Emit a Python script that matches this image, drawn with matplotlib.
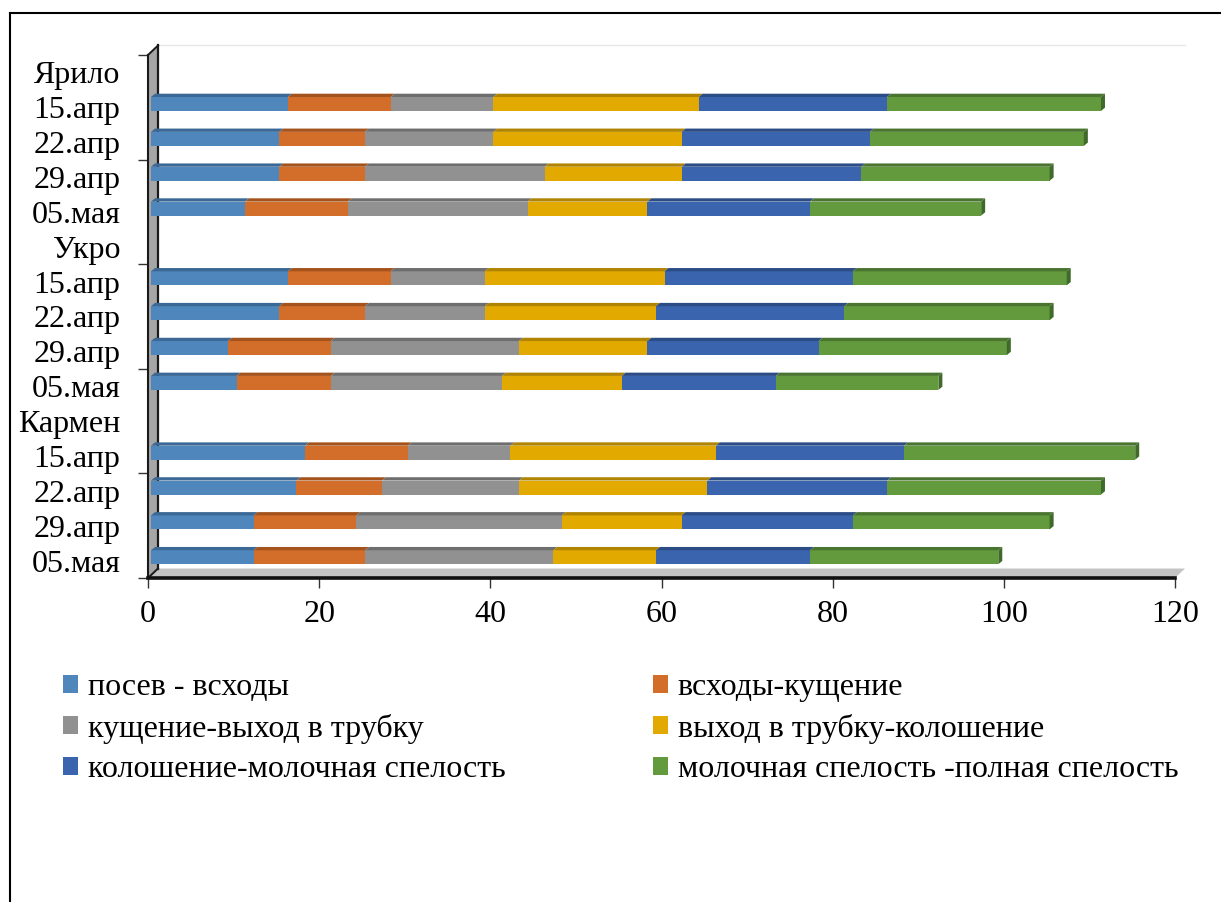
import matplotlib
matplotlib.use('Agg')
import matplotlib.pyplot as plt
from matplotlib.patches import Polygon, Patch
from matplotlib.lines import Line2D
import numpy as np

plt.rcParams['font.family'] = ['Liberation Serif', 'DejaVu Serif']

# ---------------- data ----------------
groups = ['Ярило', 'Укро', 'Кармен']
dates = ['15.апр', '22.апр', '29.апр', '05.мая']
phases = ['посев - всходы', 'всходы-кущение', 'кущение-выход в трубку',
          'выход в трубку-колошение', 'колошение-молочная спелость',
          'молочная спелость -полная спелость']
# rows: Ярило (15.апр, 22.апр, 29.апр, 05.мая), Укро (...), Кармен (...)
sow_emerg = [16, 15, 15, 11, 16, 15, 9, 10, 18, 17, 12, 12]
emerg_till = [12, 10, 10, 12, 12, 10, 12, 11, 12, 10, 12, 13]
till_boot = [12, 15, 21, 21, 11, 14, 22, 20, 12, 16, 24, 22]
boot_head = [24, 22, 16, 14, 21, 20, 15, 14, 24, 22, 14, 12]
head_milk = [22, 22, 21, 19, 22, 22, 20, 18, 22, 21, 20, 18]
milk_full = [25, 25, 22, 20, 25, 24, 22, 19, 27, 25, 23, 22]
x_ticks = [0, 20, 40, 60, 80, 100, 120]

series = [sow_emerg, emerg_till, till_boot, boot_head, head_milk, milk_full]
front_colors = ['#4f87bd', '#d36d2a', '#919191', '#e2aa00', '#3b64ae', '#629a3d']
top_colors = ['#3b6894', '#a4531d', '#6e6e6e', '#b08400', '#2c4c86', '#4a7530']
side_color = '#3f6a2a'

FS = 23

W, H = 1221, 902
fig = plt.figure(figsize=(W / 100, H / 100), dpi=100)

AX_L, AX_R, AX_T, AX_B = 148, 1175, 55, 578
ax = fig.add_axes([AX_L / W, 1 - AX_B / H, (AX_R - AX_L) / W, (AX_B - AX_T) / H])

# category layout: group header row then date rows
labels, bar_pos = [], []
p = 0
for g in groups:
    labels.append(g)
    p += 1
    for d in dates:
        labels.append(d)
        bar_pos.append(p)
        p += 1
n_rows = len(labels)

ax.set_xlim(x_ticks[0], x_ticks[-1])
ax.set_ylim(n_rows - 0.5, -0.5)

ux = (AX_R - AX_L) / (x_ticks[-1] - x_ticks[0])   # px per x unit
uy = (AX_B - AX_T) / n_rows                        # px per row

# 3D style offsets (pixels -> data)
dx0, dy0 = 3 / ux, 3.3 / uy
h = 14 / uy
ddx, ddy = 4 / ux, 3.3 / uy
wdx, wdy = 10 / ux, 9.5 / uy

y0, y1 = n_rows - 0.5, -0.5
# left wall
ax.add_patch(Polygon([(0, y0), (0, y1), (wdx, y1 - wdy), (wdx, y0 - wdy)],
                     closed=True, facecolor='#a6a6a6', edgecolor='none',
                     clip_on=False, zorder=1))
# floor
ax.add_patch(Polygon([(0, y0), (x_ticks[-1], y0), (x_ticks[-1] + wdx, y0 - wdy), (wdx, y0 - wdy)],
                     closed=True, facecolor='#c4c4c4', edgecolor='none',
                     clip_on=False, zorder=1))
ax.add_line(Line2D([wdx, wdx], [y1 - wdy, y0 - wdy], color='#1a1a1a', lw=1.6, clip_on=False, zorder=2))
ax.add_line(Line2D([0, wdx], [y1, y1 - wdy], color='#1a1a1a', lw=1.4, clip_on=False, zorder=2))
ax.add_line(Line2D([0, wdx], [y0, y0 - wdy], color='#1a1a1a', lw=1.4, clip_on=False, zorder=2))
ax.add_line(Line2D([wdx, x_ticks[-1] + wdx], [y1 - wdy, y1 - wdy], color='#e6e6e6', lw=1.0,
                   clip_on=False, zorder=1))

# bars
yc = np.array(bar_pos, dtype=float) - dy0
left = np.zeros(len(bar_pos))
for k, vals in enumerate(series):
    vals = np.array(vals, dtype=float)
    ax.barh(yc, vals, left=left + dx0, height=h, color=front_colors[k],
            edgecolor='none', zorder=3)
    for yy, l, v in zip(yc, left + dx0, vals):
        top = yy - h / 2
        ax.add_patch(Polygon([(l, top), (l + v, top), (l + v + ddx, top - ddy), (l + ddx, top - ddy)],
                             closed=True, facecolor=top_colors[k], edgecolor='none', zorder=3))
    left = left + vals
for yy, L in zip(yc, left + dx0):
    ax.add_patch(Polygon([(L, yy - h / 2), (L, yy + h / 2), (L + ddx, yy + h / 2 - ddy), (L + ddx, yy - h / 2 - ddy)],
                         closed=True, facecolor=side_color, edgecolor='none', zorder=3))

# axes styling
for s in ['top', 'right']:
    ax.spines[s].set_visible(False)
ax.spines['left'].set_linewidth(1.5)
ax.spines['left'].set_color('#1a1a1a')
ax.spines['bottom'].set_linewidth(2.6)
ax.spines['bottom'].set_color('#111111')
ax.spines['left'].set_zorder(2)

ax.set_xticks(x_ticks)
ax.set_xticklabels([str(t) for t in x_ticks])
ax.tick_params(axis='x', length=7, width=1, color='#333333', pad=9, labelsize=FS)

ax.set_yticks(range(n_rows))
ax.set_yticklabels(labels)
ax.tick_params(axis='y', which='major', length=0, pad=20, labelsize=FS)
ax.set_yticks(np.arange(-0.5, n_rows, 3), minor=True)
ax.tick_params(axis='y', which='minor', length=7, width=1, color='#333333')
ax.set_facecolor('none')

# legend
handles = [Patch(facecolor=c, edgecolor='none', label=lab) for c, lab in zip(front_colors, phases)]
order = [0, 2, 4, 1, 3, 5]
fig.legend([handles[i] for i in order], [phases[i] for i in order],
           loc='upper left', bbox_to_anchor=(63 / W, 1 - 673 / H), ncol=2,
           frameon=False, fontsize=FS, handlelength=0.48, handleheight=0.48,
           handletextpad=0.3, labelspacing=0.36, columnspacing=4.6,
           borderpad=0, borderaxespad=0)

# outer frame (left and top edges)
fig.add_artist(Line2D([10 / W, 10 / W], [0, 1 - 13 / H], color='black', lw=1.5))
fig.add_artist(Line2D([10 / W, 1], [1 - 13 / H, 1 - 13 / H], color='black', lw=1.5))

fig.savefig('out.png', dpi=100)
